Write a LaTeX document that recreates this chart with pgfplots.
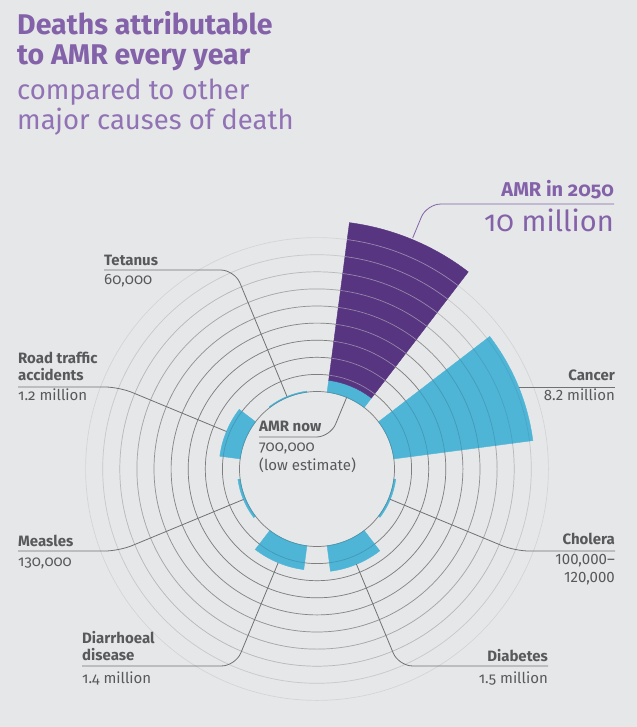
\documentclass[border=0pt]{standalone}
\usepackage{fontspec}
\setmainfont{Fira Sans}[Numbers=OldStyle]
\usepackage{pgfplots}
\pgfplotsset{compat=1.18}
\usepackage{pgfplotstable}

\definecolor{bg}{HTML}{E6E7E8}
\definecolor{amrblue}{HTML}{4EB5D7}
\definecolor{amrpurple}{HTML}{573581}
\definecolor{titlepurple}{HTML}{8462A9}
\definecolor{subpurple}{HTML}{9072B5}
\definecolor{labelgrey}{HTML}{58595B}
\definecolor{leader}{HTML}{707173}

% radius of the hole (in units of 1 million deaths) and size of one unit
\def\rzero{4.532}
\def\unit{17.1}

% one row per sector: centre angle, inner value, outer value (millions)
\pgfplotstableread{
angle  base value
67.5   0    0.7
22.5   0    8.2
-22.5  0    0.11
-67.5  0    1.5
-112.5 0    1.4
-157.5 0    0.13
157.5  0    1.2
112.5  0    0.06
}\bluebars
\pgfplotstableread{
angle base value
67.5  0.7  10
}\purplebars

% each row is drawn as a ring sector around the centre of the chart
\pgfplotsset{
  sector/.style={
    scatter, only marks, mark=*, mark size=0pt,
    mark options={draw=none, fill=none},
    visualization depends on={\thisrow{angle} \as \ang},
    visualization depends on={\thisrow{base} \as \bas},
    visualization depends on={\thisrow{value} \as \val},
    scatter/@pre marker code/.code={
      \pgfmathsetmacro\rin{(\rzero+\bas)*\unit}
      \pgfmathsetmacro\rout{(\rzero+\val)*\unit}
      \fill[#1]
        ({\ang-15}:\rin bp) arc[start angle={\ang-15}, end angle={\ang+15}, radius=\rin bp]
        -- ({\ang+15}:\rout bp) arc[start angle={\ang+15}, end angle={\ang-15}, radius=\rout bp]
        -- cycle;
    },
    scatter/@post marker code/.code={},
  },
}

\newcommand\lab[1]{\fontsize{15bp}{17bp}\selectfont\color{labelgrey}#1}

\begin{document}
\begin{tikzpicture}[x=1bp, y=1bp]
\fill[bg] (0,0) rectangle (637,-727);
\useasboundingbox (0,0) rectangle (637,-727);

% grid rings under the bars, one per million, fading outwards
\foreach \k/\op in {0/0.353,1/0.353,2/0.353,3/0.353,4/0.318,5/0.259,6/0.172,7/0.111,8/0.054,9/0.021}{
  \draw[black, draw opacity=\op, line width=0.7bp] (317,-469) circle[radius={77.5+17.1*\k}];
}

\begin{axis}[
  at={(317bp,-469bp)}, anchor=origin,
  x=\unit bp, y=\unit bp,
  xmin=-15, xmax=15, ymin=-15, ymax=15,
  hide axis, clip=false,
  data cs=polar,
]
\addplot[sector=amrblue] table[x=angle, y expr=0] {\bluebars};
\addplot[sector=amrpurple] table[x=angle, y expr=0] {\purplebars};
\end{axis}

% faint rings over the bars
\foreach \k/\op in {0/0.15,1/0.15,2/0.15,3/0.15,4/0.15,5/0.15,6/0.13,7/0.1,8/0.08,9/0.06}{
  \draw[black, draw opacity=\op, line width=0.7bp] (317,-469) circle[radius={77.5+17.1*\k}];
}
% rings show light across the 2050 bar
\foreach \k in {1,...,9}{
  \draw[white, draw opacity=0.42, line width=0.7bp]
    ([shift={(317,-469)}]52.5:{77.5+17.1*\k}) arc[start angle=52.5, end angle=82.5, radius={77.5+17.1*\k}];
}

% leader lines
\begin{scope}[leader, line width=0.8bp, rounded corners=14bp]
\draw[titlepurple] ([shift={(317,-469)}]67.5:250) -- ([shift={(317,-469)}]67.5:286.8) -- (614,-204);
\draw (519,-387) -- (615,-387);
\draw ([shift={(317,-469)}]-22.5:79) -- ([shift={(317,-469)}]-22.5:214.3) -- (615,-551);
\draw ([shift={(317,-469)}]-67.5:103) -- ([shift={(317,-469)}]-67.5:213.2) -- (548,-666);
\draw ([shift={(317,-469)}]-112.5:101.5) -- ([shift={(317,-469)}]-112.5:213.2) -- (82,-666);
\draw ([shift={(317,-469)}]-157.5:79.5) -- ([shift={(317,-469)}]-157.5:214.3) -- (18,-551);
\draw ([shift={(317,-469)}]157.5:98) -- ([shift={(317,-469)}]157.5:214.3) -- (18,-387);
\draw ([shift={(317,-469)}]112.5:78.5) -- ([shift={(317,-469)}]112.5:215.4) -- (104,-270);
\draw ([shift={(317,-469)}]67.5:77.5) -- ([shift={(317,-469)}]67.5:34.6) -- (259,-437);
\end{scope}

% title
\begin{scope}[every node/.style={anchor=base west, inner sep=0pt, font=\fontsize{27.5bp}{30bp}\selectfont}]
\node[text=titlepurple, font=\fontsize{28.5bp}{30bp}\selectfont\bfseries] at (17,-35) {Deaths attributable};
\node[text=titlepurple, font=\fontsize{28.5bp}{30bp}\selectfont\bfseries] at (17,-65) {to AMR every year};
\node[text=subpurple] at (17,-100) {compared to other};
\node[text=subpurple] at (17,-130) {major causes of death};
\end{scope}

% AMR in 2050
\node[anchor=base east, inner sep=0pt, text=titlepurple, font=\fontsize{20bp}{22bp}\selectfont\bfseries] at (614,-196) {AMR in 2050};
\node[anchor=base east, inner sep=0pt, text=titlepurple, font=\fontsize{29bp}{32bp}\selectfont] at (614,-231) {10 million};

% category labels
\begin{scope}[every node/.style={inner sep=0pt}]
\node[anchor=base east] at (615,-380) {\lab{\bfseries Cancer}};
\node[anchor=base east] at (615,-400) {\lab{\addfontfeatures{Numbers=Lining}8.2 million}};
\node[anchor=base east] at (615,-544) {\lab{\bfseries Cholera}};
\node[anchor=base east] at (615,-564) {\lab{\addfontfeatures{Numbers=Lining}100,000–}};
\node[anchor=base east] at (615,-582) {\lab{\addfontfeatures{Numbers=Lining}120,000}};
\node[anchor=base east] at (548,-661) {\lab{\bfseries Diabetes}};
\node[anchor=base east] at (548,-683) {\lab{1.5 million}};
\node[anchor=base west] at (82,-643) {\lab{\bfseries Diarrhoeal}};
\node[anchor=base west] at (82,-660) {\lab{\bfseries disease}};
\node[anchor=base west] at (82,-683) {\lab{1.4 million}};
\node[anchor=base west] at (18,-546) {\lab{\bfseries Measles}};
\node[anchor=base west] at (18,-566) {\lab{130,000}};
\node[anchor=base west] at (18,-363) {\lab{\bfseries Road traffic}};
\node[anchor=base west] at (18,-380) {\lab{\bfseries accidents}};
\node[anchor=base west] at (18,-400) {\lab{1.2 million}};
\node[anchor=base west] at (104,-265) {\lab{\bfseries Tetanus}};
\node[anchor=base west] at (104,-284) {\lab{60,000}};
\node[anchor=base west] at (259,-431) {\lab{\bfseries AMR now}};
\node[anchor=base west] at (259,-451) {\lab{700,000}};
\node[anchor=base west] at (259,-470) {\lab{(low estimate)}};
\end{scope}
\end{tikzpicture}
\end{document}
